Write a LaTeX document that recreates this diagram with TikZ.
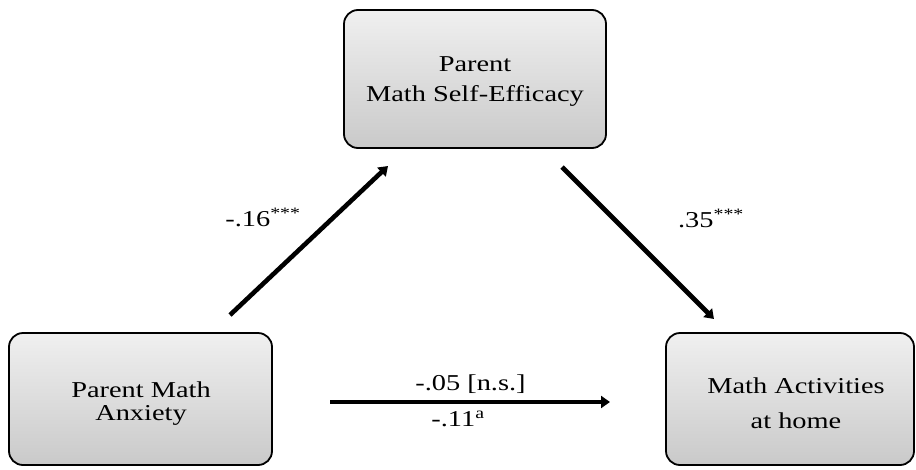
\documentclass[tikz,border=0pt]{standalone}
\usepackage{fontspec}
\setmainfont{Liberation Serif}[FakeStretch=1.25]
\usetikzlibrary{arrows.meta}
\begin{document}
\begin{tikzpicture}[x=1pt,y=-1pt,
  box/.style={draw=black, line width=1.8pt, rounded corners=14pt,
    top color=black!6, bottom color=black!21, inner sep=0pt},
  boxtext/.style={inner sep=0pt, align=center},
  lbl/.style={inner sep=0pt, anchor=base, font=\fontsize{22.7}{27}\selectfont},
  conn/.style={line width=4.6pt, -{Triangle[length=9pt,width=12pt]}}
]
\useasboundingbox (0,0) rectangle (916,469);

% boxes
\node[box, minimum width=262pt, minimum height=138pt] (eff) at (475,79) {};
\node[box, minimum width=263pt, minimum height=132pt] (anx) at (140.5,399) {};
\node[box, minimum width=248pt, minimum height=132pt] (act) at (790,399) {};

% box texts
\node[boxtext, font=\fontsize{22.7}{30}\selectfont] (effT) at (475,82) {Parent\\Math Self-Efficacy};
\node[boxtext, font=\fontsize{22.7}{23}\selectfont] (anxT) at (141,404) {Parent Math\\Anxiety};
\node[boxtext, font=\fontsize{22.7}{35}\selectfont] (actT) at (796,403) {Math Activities\\at home};

% connector end points
\coordinate (a1) at (230,315);
\coordinate (a2) at (388,166);
\coordinate (b1) at (562,167);
\coordinate (b2) at (714,319);
\coordinate (c1) at (330,402);
\coordinate (c2) at (610,402);

\draw[conn] (a1) -- (a2);
\draw[conn] (b1) -- (b2);
\draw[conn] (c1) -- (c2);

% labels
\node[lbl] (l1) at (263,226) {-.16\textsuperscript{***}};
\node[lbl] (l2) at (711,227) {.35\textsuperscript{***}};
\node[lbl] (l3) at (470.5,390) {-.05 [n.s.]};
\node[lbl] (l4) at (458,426) {-.11\textsuperscript{a}};
\end{tikzpicture}
\end{document}
